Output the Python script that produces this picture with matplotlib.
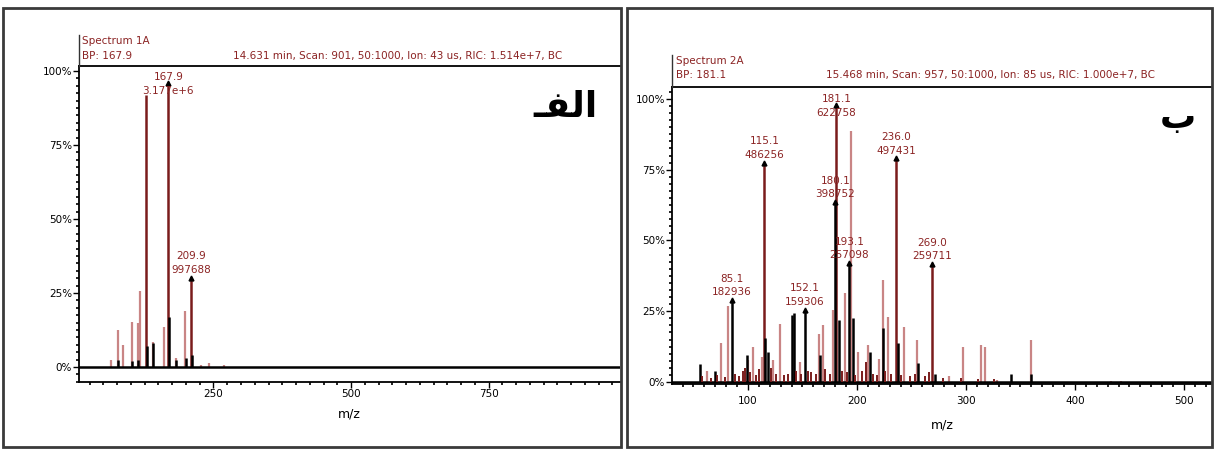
import numpy as np
import matplotlib
matplotlib.use("Agg")
import matplotlib.pyplot as plt
from matplotlib.patches import Rectangle
from matplotlib.lines import Line2D
from matplotlib.ticker import MultipleLocator, FixedLocator

# ---- data (relative intensity, %) ----
# spectrum 1A
left_red_mz = [128.0, 167.9, 209.9]
left_red_pct = [92.0, 96.0, 30.2]
left_pink_mz = [64.5, 76.4, 85.3, 101.3, 112.0, 117.3, 140.4, 159.3, 181.0, 199.0, 227.0, 242.0, 269.0]
left_pink_pct = [2.2, 12.6, 7.4, 15.3, 15.0, 25.5, 8.4, 13.4, 3.0, 18.8, 0.8, 1.4, 0.6]
left_black_mz = [77.0, 101.0, 113.0, 128.5, 140.0, 168.5, 181.5, 199.5, 210.5]
left_black_pct = [2.4, 2.0, 2.5, 7.2, 8.0, 17.0, 2.5, 3.0, 4.0]
left_label_mz = [167.9, 209.9]
left_label_pct = [96.0, 30.2]
left_label_txt = ["167.9\n3.177e+6", "209.9\n997688"]

# spectrum 2A
right_red_mz = [115.1, 181.1, 236.0, 269.0]
right_red_pct = [77.5, 98.0, 79.0, 41.7]
right_pink_mz = [62.3, 74.9, 81.3, 100.0, 104.7, 112.6, 123.3, 129.4, 147.7, 165.3, 168.9, 178.2,
                 188.6, 194.5, 201.0, 210.0, 220.0, 223.8, 228.4, 243.5, 255.0, 284.7, 297.3,
                 313.5, 317.0, 328.5, 359.4, 433.0, 442.0]
right_pink_pct = [3.9, 13.7, 26.8, 7.7, 12.5, 9.0, 7.7, 20.5, 7.0, 17.0, 20.2, 25.6,
                  31.5, 88.5, 10.7, 13.0, 8.3, 36.0, 23.0, 19.6, 15.0, 2.0, 12.5,
                  13.0, 12.5, 0.8, 14.9, 0.5, 0.5]
right_black_mz = [55.9, 70.2, 85.1, 99.0, 115.4, 118.0, 140.5, 142.0, 152.1, 166.4, 180.1, 183.6,
                  193.1, 196.0, 212.0, 223.8, 238.0, 256.0, 271.5, 341.4, 359.5]
right_black_pct = [6.5, 3.9, 29.0, 9.5, 15.5, 10.7, 23.8, 24.4, 25.6, 9.5, 63.5, 22.0,
                   42.0, 22.6, 10.7, 19.0, 13.7, 6.8, 3.0, 2.7, 3.0]
right_noise_mz = [58, 66, 72, 79, 88, 92, 95, 97, 102, 107, 110, 121, 126, 133, 137, 144, 149,
                  155, 158, 162, 171, 175, 186, 191, 198, 205, 208, 215, 218, 226, 231, 240,
                  249, 253, 262, 266, 279, 295, 311, 326]
right_noise_pct = [2, 1.5, 2.5, 1.8, 3, 2.2, 4, 5, 3.5, 2.5, 4.5, 5, 3, 2.5, 3, 4, 2.8,
                   4, 3.5, 3, 4.5, 3, 4, 3.5, 2.5, 4, 7, 3, 2.5, 4, 3, 2.5,
                   2, 3, 2, 3.5, 1.5, 1.5, 1.2, 1]
right_label_mz = [85.1, 115.1, 152.1, 180.1, 181.1, 193.1, 236.0, 269.0]
right_label_pct = [29.0, 77.5, 25.6, 63.5, 98.0, 42.0, 79.0, 41.7]
right_label_txt = ["85.1\n182936", "115.1\n486256", "152.1\n159306", "180.1\n398752",
                   "181.1\n622758", "193.1\n257098", "236.0\n497431", "269.0\n259711"]

RED = "#7a1c1c"
PINK = "#c98585"
TXT = "#8b2323"

plt.rcParams['font.family'] = ['DejaVu Sans']
fig = plt.figure(figsize=(12.15, 4.5), dpi=100)
W, H = 1215.0, 450.0


def fx(px):
    return px / W


def fy(py):
    return 1 - py / H


def spectrum(ax, red_mz, red_pct, pink_mz, pink_pct, black_mz, black_pct, lab_mz, lab_pct, lab_txt):
    ax.vlines(pink_mz, 0, pink_pct, color=PINK, lw=1.6)
    ax.vlines(red_mz, 0, red_pct, color=RED, lw=1.8)
    ax.vlines(black_mz, 0, black_pct, color="black", lw=1.8)
    ax.axhline(0, color="black", lw=1.8)
    ax.plot(lab_mz, lab_pct, "^", color="black", ms=3.5)
    top = max(lab_pct)
    for m, p, t in zip(lab_mz, lab_pct, lab_txt):
        if p == top:
            # base peak: label sits over the arrow, below the header line
            ax.annotate(t, (m, p), xytext=(0, -1), textcoords="offset points", ha="center",
                        va="center", fontsize=7.5, color=TXT, linespacing=1.45)
        else:
            ax.annotate(t, (m, p), xytext=(0, 2), textcoords="offset points", ha="center",
                        va="bottom", fontsize=7.5, color=TXT, linespacing=1.45)
    ax.yaxis.set_major_locator(FixedLocator([0, 25, 50, 75, 100]))
    ax.yaxis.set_minor_locator(MultipleLocator(2.5))
    ax.set_yticklabels(["0%", "25%", "50%", "75%", "100%"])
    ax.tick_params(axis="both", which="major", labelsize=7.5, length=4, width=1, direction="out", pad=1)
    ax.tick_params(axis="both", which="minor", length=2.5, width=1.2, direction="out")
    ax.spines["right"].set_visible(False)
    for s in ["left", "top", "bottom"]:
        ax.spines[s].set_linewidth(1.3)


# left panel
ax1 = fig.add_axes([fx(79), fy(382), fx(620 - 79), (382 - 66) / H])
spectrum(ax1, left_red_mz, left_red_pct, left_pink_mz, left_pink_pct, left_black_mz, left_black_pct,
         left_label_mz, left_label_pct, left_label_txt)
ax1.set_xlim(5.5, 989)
ax1.set_ylim(-5.1, 101.7)
ax1.xaxis.set_major_locator(FixedLocator([250, 500, 750]))
ax1.xaxis.set_minor_locator(MultipleLocator(25))
ax1.set_xlabel("m/z", fontsize=9, labelpad=6)

# right panel
ax2 = fig.add_axes([fx(672), fy(384), fx(1212 - 672), (384 - 87) / H])
spectrum(ax2, right_red_mz, right_red_pct, right_pink_mz, right_pink_pct, right_black_mz, right_black_pct,
         right_label_mz, right_label_pct, right_label_txt)
ax2.vlines(right_noise_mz, 0, right_noise_pct, color=RED, lw=1.4)
ax2.set_xlim(30.3, 525.7)
ax2.set_ylim(-0.7, 104.2)
ax2.xaxis.set_major_locator(FixedLocator([100, 200, 300, 400, 500]))
ax2.xaxis.set_minor_locator(MultipleLocator(10))
ax2.tick_params(axis="x", which="major", pad=5)
ax2.set_xlabel("m/z", fontsize=9, labelpad=9)

# headers
for x0, ytop, ybot in [(79, 35, 66), (672, 55, 87)]:
    fig.add_artist(Line2D([fx(x0), fx(x0)], [fy(ytop), fy(ybot)], color="#333333", lw=1))
fig.text(fx(82), fy(41), "Spectrum 1A", fontsize=7.5, color=TXT, va="center")
fig.text(fx(82), fy(56), "BP: 167.9", fontsize=7.5, color=TXT, va="center")
fig.text(fx(233), fy(56), "14.631 min, Scan: 901, 50:1000, Ion: 43 us, RIC: 1.514e+7, BC",
         fontsize=7.5, color=TXT, va="center")
fig.text(fx(676), fy(61), "Spectrum 2A", fontsize=7.5, color=TXT, va="center")
fig.text(fx(676), fy(75), "BP: 181.1", fontsize=7.5, color=TXT, va="center")
fig.text(fx(826), fy(75), "15.468 min, Scan: 957, 50:1000, Ion: 85 us, RIC: 1.000e+7, BC",
         fontsize=7.5, color=TXT, va="center")

# panel letters (Arabic, shaped glyphs in visual order)
fig.text(fx(598), fy(107), "\u0640\ufed4\ufedf\ufe8d", fontsize=26, fontweight="bold", ha="right", va="center")
fig.text(fx(1196), fy(118), "\ufe8f", fontsize=26, fontweight="bold", ha="right", va="center")

# panel frames
fig.add_artist(Rectangle((fx(3), fy(447)), fx(618), (447 - 8) / H, fill=False, ec="#3a3a3a", lw=2))
fig.add_artist(Rectangle((fx(627), fy(447)), fx(585), (447 - 8) / H, fill=False, ec="#3a3a3a", lw=2))

fig.savefig("out.png", dpi=100)
